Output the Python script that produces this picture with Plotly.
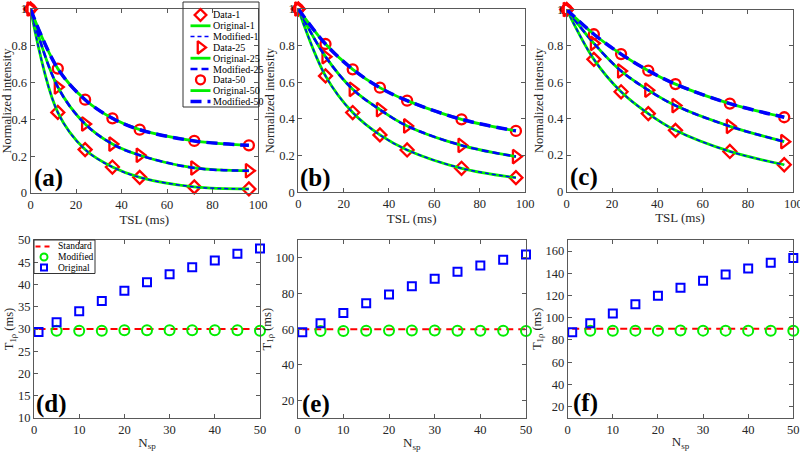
import plotly.graph_objects as go
from plotly.subplots import make_subplots

W, H = 800, 455
FONT = "Liberation Serif, Times New Roman, DejaVu Serif, serif"
RED, GREEN, BLUE = "#ff0000", "#00ee00", "#0000ff"
AXIS = "#595959"
TEXT = "#262626"

# ---- relaxation curves, panels (a)-(c) ----
tsl = [0, 12, 24, 36, 48, 72, 96]
a_nsp1 = [1, 0.438, 0.236, 0.141, 0.085, 0.033, 0.022]
a_nsp25 = [1, 0.576, 0.375, 0.266, 0.205, 0.136, 0.121]
a_nsp50 = [1, 0.676, 0.507, 0.406, 0.344, 0.283, 0.259]
b_nsp1 = [1, 0.635, 0.435, 0.313, 0.231, 0.131, 0.080]
b_nsp25 = [1, 0.740, 0.562, 0.451, 0.362, 0.256, 0.195]
b_nsp50 = [1, 0.809, 0.671, 0.571, 0.500, 0.398, 0.335]
c_nsp1 = [1, 0.726, 0.548, 0.428, 0.336, 0.220, 0.147]
c_nsp25 = [1, 0.814, 0.662, 0.557, 0.472, 0.358, 0.274]
c_nsp50 = [1, 0.864, 0.755, 0.664, 0.590, 0.483, 0.408]
group_names = ["1", "25", "50"]

# ---- fitted T1rho vs number of spin-lock pulses, panels (d)-(f) ----
nsp = [1, 5, 10, 15, 20, 25, 30, 35, 40, 45, 50]
standard_t1rho = [30, 60, 90]
d_modified = [29.6, 29.6, 29.6, 29.7, 29.7, 29.7, 29.7, 29.7, 29.7, 29.6]
d_original = [29.3, 31.5, 34.0, 36.3, 38.6, 40.5, 42.3, 43.9, 45.4, 46.9, 48.1]
e_modified = [59.0, 59.0, 59.1, 59.2, 59.2, 59.2, 59.1, 59.1, 59.1, 59.0]
e_original = [58.2, 63.3, 69.0, 74.5, 79.5, 84.0, 88.3, 92.2, 95.7, 98.9, 101.9]
f_modified = [88.2, 88.3, 88.4, 88.4, 88.5, 88.4, 88.4, 88.4, 88.3, 88.2]
f_original = [87.0, 95.1, 103.8, 112.2, 119.7, 127.0, 133.3, 139.0, 144.4, 149.5, 153.7]

panel_labels = ["(a)", "(b)", "(c)", "(d)", "(e)", "(f)"]

# axes boxes in pixels: left, top, right, bottom
boxes = [(30.5, 9, 258, 193), (298.3, 9, 525, 192.3), (566.7, 9.5, 793.3, 191.5),
         (34, 240, 260, 418), (297.7, 240, 526, 418.3), (567.7, 240, 793.3, 417.7)]

data_marker = [dict(symbol="diamond-open", size=10),
               dict(symbol="triangle-right-open", size=12),
               dict(symbol="circle-open", size=10)]
orig_line = dict(color=GREEN, width=2.8)
mod_lines = [dict(color=BLUE, width=1.5, dash="4px,3px"),
             dict(color=BLUE, width=2.5, dash="7px,4px"),
             dict(color=BLUE, width=3.5, dash="11px,6px")]
std_line = dict(color=RED, width=2, dash="7px,5px")
mod_marker = dict(symbol="circle-open", size=10, color=GREEN, line=dict(width=2, color=GREEN))
orig_marker = dict(symbol="square-open", size=8, color=BLUE, line=dict(width=2, color=BLUE))


def red_marker(m):
    return dict(m, color=RED, line=dict(width=2.3, color=RED))


def px(x, y):
    # pixel position -> paper fraction
    return x / W, 1 - y / H


fig = make_subplots(rows=2, cols=3)

curves = [[a_nsp1, a_nsp25, a_nsp50], [b_nsp1, b_nsp25, b_nsp50], [c_nsp1, c_nsp25, c_nsp50]]
for col, panel in enumerate(curves, start=1):
    for k, vals in enumerate(panel):
        fig.add_trace(go.Scatter(x=tsl, y=vals, mode="markers", marker=red_marker(data_marker[k]),
                                 cliponaxis=False, name="Data-" + group_names[k]), row=1, col=col)
        fig.add_trace(go.Scatter(x=tsl, y=vals, mode="lines", line=dict(orig_line, shape="spline"),
                                 name="Original-" + group_names[k]), row=1, col=col)
        fig.add_trace(go.Scatter(x=tsl, y=vals, mode="lines", line=dict(mod_lines[k], shape="spline"),
                                 name="Modified-" + group_names[k]), row=1, col=col)

t1 = [(d_modified, d_original), (e_modified, e_original), (f_modified, f_original)]
for col, (mod, orig) in enumerate(t1, start=1):
    std = standard_t1rho[col - 1]
    fig.add_trace(go.Scatter(x=nsp, y=[std] * len(nsp), mode="lines", line=std_line,
                             name="Standard"), row=2, col=col)
    fig.add_trace(go.Scatter(x=nsp[1:], y=mod, mode="markers", marker=mod_marker, cliponaxis=False,
                             name="Modified"), row=2, col=col)
    fig.add_trace(go.Scatter(x=nsp, y=orig, mode="markers", marker=orig_marker, cliponaxis=False,
                             name="Original"), row=2, col=col)

tickfont = dict(family=FONT, size=12.5, color=TEXT)
titlefont = dict(family=FONT, size=13, color=TEXT)
axis_common = dict(showgrid=False, zeroline=False, showline=True, linecolor=AXIS, linewidth=1,
                   mirror="ticks", ticks="inside", ticklen=4, tickcolor=AXIS, tickfont=tickfont,
                   automargin=False, ticklabeloverflow="allow")

yranges = [[0, 1]] * 3 + [[10, 50], [10, 110], [10, 170]]
ydticks = [0.2] * 3 + [5, 20, 20]
for i, (l, t, r, b) in enumerate(boxes):
    row, col = i // 3 + 1, i % 3 + 1
    top = row == 1
    fig.update_xaxes(axis_common, domain=[l / W, r / W], range=[0, 100] if top else [0, 50],
                     dtick=20 if top else 10,
                     title=dict(text="TSL (ms)" if top else "N<sub>sp</sub>", font=titlefont,
                                standoff=3 if top else 1),
                     row=row, col=col)
    fig.update_yaxes(axis_common, domain=[1 - b / H, 1 - t / H], range=yranges[i], dtick=ydticks[i],
                     title=dict(text="Normalized intensity" if top else "T<sub>1\u03c1</sub> (ms)",
                                font=dict(titlefont, size=12.5), standoff=1),
                     row=row, col=col)
    n = "" if i == 0 else str(i + 1)
    fig.add_annotation(text="<b>" + panel_labels[i] + "</b>", xref="x" + n + " domain",
                       yref="y" + n + " domain", x=0.078, y=0.08, xanchor="center", yanchor="middle",
                       showarrow=False, font=dict(family=FONT, size=25, color="black"))

# pixel-space overlay used only for the legend keys
fig.update_layout(
    xaxis7=dict(domain=[0, 1], range=[0, W], visible=False, fixedrange=True, automargin=False),
    yaxis7=dict(domain=[0, 1], range=[H, 0], visible=False, fixedrange=True, anchor="x7",
                automargin=False),
)


def draw_legend(box, rows, y0, pitch, kx, key_half, tx, size):
    x0, y1p = px(box[0], box[1])
    x1, y0p = px(box[2], box[3])
    fig.add_shape(type="rect", xref="paper", yref="paper", x0=x0, y0=y0p, x1=x1, y1=y1p,
                  line=dict(color="#333333", width=1), fillcolor="rgba(0,0,0,0)")
    for j, (label, kind, style) in enumerate(rows):
        y = y0 + j * pitch
        if kind == "marker":
            fig.add_trace(go.Scatter(x=[kx], y=[y], mode="markers", marker=style, xaxis="x7",
                                     yaxis="y7", cliponaxis=False, hoverinfo="skip"))
        else:
            fig.add_trace(go.Scatter(x=[kx - key_half, kx + key_half], y=[y, y], mode="lines",
                                     line=style, xaxis="x7", yaxis="y7", hoverinfo="skip"))
        ax, ay = px(tx, y)
        fig.add_annotation(text=label, xref="paper", yref="paper", x=ax, y=ay, xanchor="left",
                           yanchor="middle", showarrow=False,
                           font=dict(family=FONT, size=size, color="black"))


top_rows = []
for k, g in enumerate(group_names):
    top_rows.append(("Data-" + g, "marker", red_marker(dict(data_marker[k], size=data_marker[k]["size"] - 1))))
    top_rows.append(("Original-" + g, "line", orig_line))
    top_rows.append(("Modified-" + g, "line", mod_lines[k]))
draw_legend((183, 2, 259, 107), top_rows, 15, 10.8, 200.5, 10, 210.5, 10)

bottom_rows = [("Standard", "line", dict(std_line, dash="5px,4px")),
               ("Modified", "marker", dict(mod_marker, size=7)),
               ("Original", "marker", dict(orig_marker, size=6))]
draw_legend((34, 240, 95, 273.5), bottom_rows, 246.5, 10.5, 44, 8.5, 56, 9.5)

fig.update_layout(width=W, height=H, margin=dict(l=0, r=0, t=0, b=0), showlegend=False,
                  paper_bgcolor="white", plot_bgcolor="rgba(0,0,0,0)",
                  font=dict(family=FONT, color=TEXT))

# the page body has a default 8px margin; drop it so the figure sits at the window origin
fig.write_html("out.html", config={"displayModeBar": False},
               post_script="document.body.style.margin='0';")
